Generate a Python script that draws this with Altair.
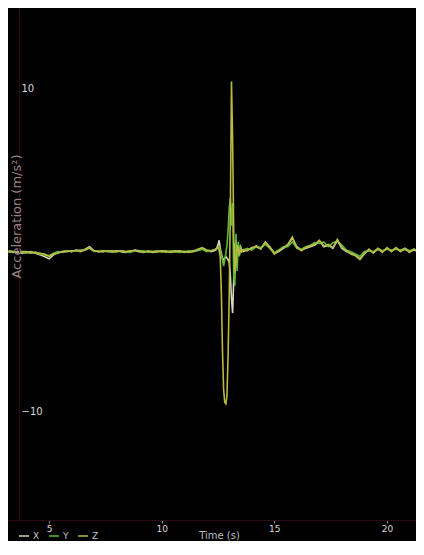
import altair as alt
import pandas as pd

times = [
    3.2, 3.4, 3.6, 3.8, 4.0, 4.2, 4.4, 4.6, 4.8, 5.0,
    5.2, 5.4, 5.6, 5.8, 6.0, 6.2, 6.4, 6.6, 6.8, 7.0,
    7.2, 7.4, 7.6, 7.8, 8.0, 8.2, 8.4, 8.6, 8.8, 9.0,
    9.2, 9.4, 9.6, 9.8, 10.0, 10.2, 10.4, 10.6, 10.8, 11.0,
    11.2, 11.4, 11.6, 11.8, 12.0, 12.2, 12.4,
    12.5, 12.55, 12.6, 12.65, 12.7, 12.75, 12.8, 12.85, 12.9, 12.95,
    13.0, 13.05, 13.1, 13.15, 13.2, 13.25, 13.3, 13.35, 13.4, 13.45,
    13.5, 13.55, 13.6,
    13.8, 14.0, 14.2, 14.4, 14.6, 14.8, 15.0, 15.2, 15.4, 15.6,
    15.8, 16.0, 16.2, 16.4, 16.6, 16.8, 17.0, 17.2, 17.4, 17.6,
    17.8, 18.0, 18.2, 18.4, 18.6, 18.8, 19.0, 19.2, 19.4, 19.6,
    19.8, 20.0, 20.2, 20.4, 20.6, 20.8, 21.0, 21.2, 21.4, 21.6,
]

x_vals = [
    -0.10, -0.15, -0.10, -0.20, -0.15, -0.10, -0.20, -0.30, -0.40, -0.55,
    -0.30, -0.15, -0.10, -0.05, -0.10, 0.00, -0.05, 0.05, 0.20, -0.05,
    -0.10, -0.05, -0.10, -0.10, -0.05, -0.10, -0.15, -0.10, 0.00, -0.05,
    -0.10, -0.10, -0.15, -0.10, -0.05, -0.10, -0.10, -0.05, -0.10, -0.15,
    -0.10, -0.05, 0.00, 0.10, -0.05, -0.10, 0.00,
    0.30, 0.60, 0.10, -0.20, -0.50, -0.60, -0.50, -0.40, -0.50, -0.60,
    -0.80, -1.60, -3.00, -3.90, -1.80, 0.30, 0.20, -0.20, 0.10, -0.10,
    0.20, 0.00, -0.10,
    0.00, 0.10, 0.25, 0.10, 0.45, 0.20, -0.20, -0.10, 0.10, 0.30,
    0.75, 0.20, 0.00, 0.10, 0.20, 0.30, 0.55, 0.20, 0.30, 0.10,
    0.60, 0.10, -0.10, -0.20, -0.30, -0.55, -0.20, 0.00, -0.15, 0.05,
    -0.10, 0.10, -0.05, 0.10, -0.05, 0.05, -0.10, 0.00, -0.10, -0.05,
]

y_vals = [
    -0.15, -0.10, -0.15, -0.10, -0.20, -0.15, -0.15, -0.25, -0.30, -0.35,
    -0.20, -0.10, -0.15, -0.05, -0.10, -0.05, 0.00, 0.00, 0.10, -0.10,
    -0.05, -0.10, -0.05, -0.15, -0.10, -0.05, -0.10, -0.15, -0.05, -0.10,
    -0.05, -0.15, -0.10, -0.05, -0.10, -0.15, -0.05, -0.10, -0.15, -0.10,
    -0.05, -0.10, -0.05, 0.05, -0.10, -0.05, 0.05,
    0.10, 0.20, 0.00, -0.30, -0.60, -1.00, -0.60, -0.20, 0.30, 1.20,
    2.60, 3.20, 1.50, 2.90, -1.60, -2.20, 1.00, -1.30, 0.50, -0.40,
    0.30, -0.10, 0.00,
    0.10, 0.00, 0.20, 0.15, 0.35, 0.10, -0.15, 0.00, 0.20, 0.20,
    0.50, 0.10, 0.05, 0.20, 0.30, 0.45, 0.40, 0.50, 0.20, 0.45,
    0.55, 0.30, 0.00, -0.10, -0.25, -0.40, -0.10, -0.05, -0.10, 0.10,
    -0.05, 0.05, 0.00, 0.05, 0.00, 0.10, -0.05, 0.05, -0.05, 0.00,
]

z_vals = [
    -0.05, -0.10, -0.15, -0.10, -0.10, -0.20, -0.15, -0.20, -0.25, -0.40,
    -0.25, -0.20, -0.10, -0.10, -0.05, -0.05, -0.10, 0.00, 0.15, -0.05,
    -0.10, -0.10, -0.05, -0.05, -0.10, -0.05, -0.10, -0.05, -0.05, -0.10,
    -0.15, -0.05, -0.10, -0.10, -0.10, -0.05, -0.15, -0.10, -0.05, -0.10,
    -0.15, -0.10, 0.05, 0.15, 0.00, -0.05, 0.05,
    0.20, 0.00, -0.40, -2.60, -6.20, -8.60, -9.40, -9.50, -9.00, -6.40,
    -2.80, 2.40, 10.40, 6.80, 0.80, -1.40, -0.70, 0.30, 0.00, -0.30,
    0.10, -0.10, 0.00,
    -0.05, 0.15, 0.20, 0.05, 0.50, 0.15, -0.25, -0.05, 0.15, 0.35,
    0.80, 0.15, -0.05, 0.15, 0.25, 0.35, 0.60, 0.25, 0.35, 0.15,
    0.65, 0.15, -0.05, -0.25, -0.35, -0.60, -0.25, 0.05, -0.20, 0.10,
    -0.15, 0.15, -0.10, 0.15, -0.10, 0.10, -0.15, 0.05, -0.15, -0.05,
]

series_names = ["X", "Y", "Z"]
series_colors = ["#d6d6c2", "#5fb83a", "#b9b944"]
x_ticks = [5, 10, 15, 20]
y_ticks = [-10, 10]

rows = []
for name, vals in zip(series_names, [x_vals, y_vals, z_vals]):
    for t, v in zip(times, vals):
        rows.append({"t": t, "v": v, "axis": name})
df = pd.DataFrame(rows)

FONT = "DejaVu Sans"

chart = alt.Chart(df).mark_line(strokeWidth=1.6, clip=True).encode(
    x=alt.X(
        "t:Q",
        scale=alt.Scale(domain=[3.18, 21.29], nice=False, zero=False),
        axis=alt.Axis(
            title="Time (s)", values=x_ticks, grid=False,
            domainColor="#2e0a12", domainWidth=1,
            tickColor="#8a8a8a", tickSize=3,
            labelColor="#d8d8d8", labelFontSize=9, labelFont=FONT,
            labelPadding=1,
            titleColor="#bdbdbd", titleFontSize=10, titleFont=FONT,
            titleFontWeight="normal", titleX=211, titleY=10, titleBaseline="top",
        ),
    ),
    y=alt.Y(
        "v:Q",
        scale=alt.Scale(domain=[-16.67, 14.94], nice=False, zero=False),
        axis=alt.Axis(
            title="Acceleration (m/s²)", values=y_ticks, grid=False,
            offset=-11, domainColor="#2e0a12", domainWidth=1,
            ticks=False, tickSize=0, zindex=1,
            labelAlign="left", labelPadding=-2,
            labelColor="#d8d8d8", labelFontSize=10, labelFont=FONT,
            titleColor="#9c8088", titleFontSize=13, titleFont=FONT,
            titleFontWeight="normal", titleX=-3, titleY=208,
            titleAlign="center", titleBaseline="middle",
        ),
    ),
    color=alt.Color(
        "axis:N",
        scale=alt.Scale(domain=series_names, range=series_colors),
        legend=alt.Legend(
            title=None, orient="none", legendX=10, legendY=522,
            direction="horizontal", symbolType="stroke",
            symbolStrokeWidth=1.5, symbolSize=100,
            labelColor="#c8c8c8", labelFontSize=9, labelFont=FONT,
            labelOffset=3, columnPadding=6, padding=0,
        ),
    ),
).properties(
    width=408,
    height=512,
    background="#000000",
    padding={"left": 0, "top": 0, "right": 0, "bottom": 21},
    autosize=alt.AutoSizeParams(type="none"),
).configure_view(stroke=None, fill="#000000")

chart.save("out.html", embed_options={"renderer": "svg", "actions": False})
